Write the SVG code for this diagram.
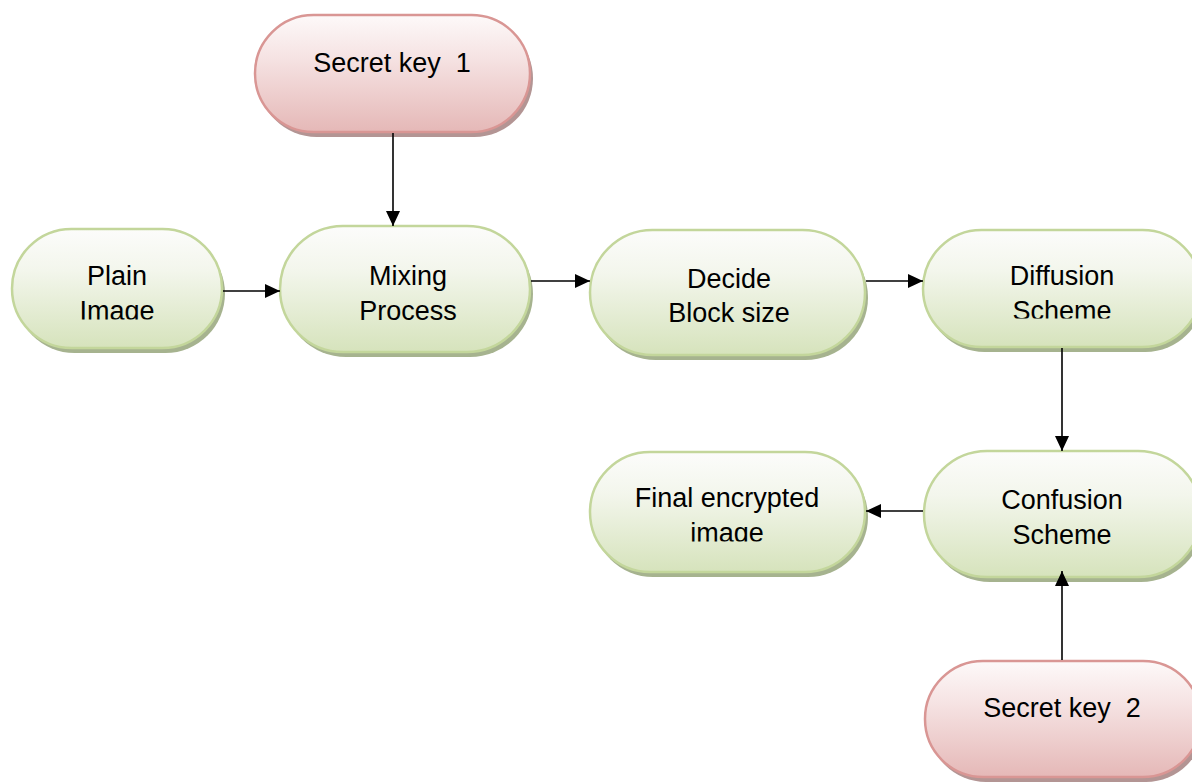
<svg xmlns="http://www.w3.org/2000/svg" width="1192" height="782" viewBox="0 0 1192 782">
<defs>
<linearGradient id="gGreen" x1="0" y1="0" x2="0" y2="1">
<stop offset="0" stop-color="#fcfcfb"/>
<stop offset="0.35" stop-color="#f3f6ec"/>
<stop offset="1" stop-color="#d6e3bc"/>
</linearGradient>
<linearGradient id="gPink" x1="0" y1="0" x2="0" y2="1">
<stop offset="0" stop-color="#fdf9f9"/>
<stop offset="0.35" stop-color="#f6e4e4"/>
<stop offset="1" stop-color="#e5b8b7"/>
</linearGradient>
<marker id="arr" markerUnits="userSpaceOnUse" markerWidth="16" markerHeight="14" refX="15" refY="7" orient="auto">
<path d="M0,0 L15,7 L0,14 Z" fill="#000"/>
</marker>
<clipPath id="cPlain" clipPathUnits="userSpaceOnUse"><rect x="0" y="200" width="300" height="119.5"/></clipPath>
<clipPath id="cDiff" clipPathUnits="userSpaceOnUse"><rect x="900" y="200" width="292" height="118.5"/></clipPath>
<clipPath id="cFinal" clipPathUnits="userSpaceOnUse"><rect x="580" y="420" width="300" height="121.5"/></clipPath>
</defs>
<style>
.shG{fill:#a6b38f}
.shP{fill:#b39594}
.nG{fill:url(#gGreen);stroke:#c3d69b;stroke-width:2.5}
.nP{fill:url(#gPink);stroke:#d99694;stroke-width:2.5}
.t{font-family:"Liberation Sans",Arial,sans-serif;font-size:27px;fill:#000;text-anchor:middle}
.c{stroke:#000;stroke-width:1.6;fill:none;marker-end:url(#arr)}
</style>
<rect width="1192" height="782" fill="#fff"/>

<g id="key1">
<rect class="shP" x="258" y="20" width="275" height="117" rx="58.5"/>
<rect class="nP" x="255" y="15" width="275" height="117" rx="58.5"/>
<text class="t" x="392" y="72" xml:space="preserve">Secret key  1</text>
</g>

<g id="plain">
<rect class="shG" x="15" y="234" width="210" height="119" rx="59.5"/>
<rect class="nG" x="12" y="229" width="210" height="119" rx="59.5"/>
<g clip-path="url(#cPlain)">
<text class="t" x="117" y="285">Plain</text>
<text class="t" x="117" y="320">Image</text>
</g>
</g>

<g id="mixing">
<rect class="shG" x="283" y="231" width="250" height="126" rx="63"/>
<rect class="nG" x="280" y="226" width="250" height="126" rx="63"/>
<text class="t" x="408" y="285">Mixing</text>
<text class="t" x="408" y="320">Process</text>
</g>

<g id="decide">
<rect class="shG" x="593" y="235" width="275" height="125" rx="62.5"/>
<rect class="nG" x="590" y="230" width="275" height="125" rx="62.5"/>
<text class="t" x="729" y="288">Decide</text>
<text class="t" x="729" y="322">Block size</text>
</g>

<g id="diffusion">
<rect class="shG" x="926" y="235" width="278" height="117" rx="58.5"/>
<rect class="nG" x="923" y="230" width="278" height="117" rx="58.5"/>
<g clip-path="url(#cDiff)">
<text class="t" x="1062" y="285">Diffusion</text>
<text class="t" x="1062" y="320">Scheme</text>
</g>
</g>

<g id="final">
<rect class="shG" x="593" y="457" width="275" height="120" rx="60"/>
<rect class="nG" x="590" y="452" width="275" height="120" rx="60"/>
<g clip-path="url(#cFinal)">
<text class="t" x="727" y="507">Final encrypted</text>
<text class="t" x="727" y="542">image</text>
</g>
</g>

<g id="confusion">
<rect class="shG" x="927" y="456" width="277" height="126" rx="63"/>
<rect class="nG" x="924" y="451" width="277" height="126" rx="63"/>
<text class="t" x="1062" y="509">Confusion</text>
<text class="t" x="1062" y="544">Scheme</text>
</g>

<g id="key2">
<rect class="shP" x="928" y="666" width="276" height="116" rx="58"/>
<rect class="nP" x="925" y="661" width="276" height="116" rx="58"/>
<text class="t" x="1062" y="717" xml:space="preserve">Secret key  2</text>
</g>

<g id="connectors">
<line class="c" x1="393" y1="133" x2="393" y2="226"/>
<line class="c" x1="223" y1="291" x2="280" y2="291"/>
<line class="c" x1="531" y1="281" x2="590" y2="281"/>
<line class="c" x1="866" y1="281" x2="923" y2="281"/>
<line class="c" x1="1062" y1="348" x2="1062" y2="451"/>
<line class="c" x1="923" y1="511" x2="866" y2="511"/>
<line class="c" x1="1062" y1="660" x2="1062" y2="571"/>
</g>
</svg>
